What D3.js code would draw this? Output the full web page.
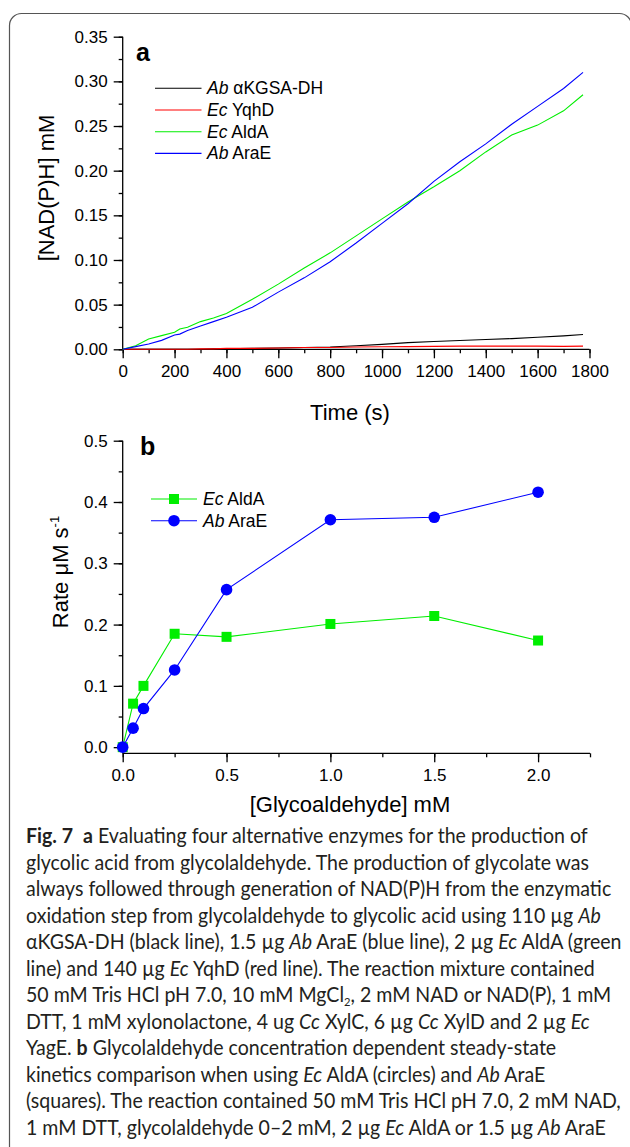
<!DOCTYPE html>
<html>
<head>
<meta charset="utf-8">
<script src="https://cdn.jsdelivr.net/npm/d3@7"></script>
<style>
  body { margin: 0; background: #fff; }
  svg { display: block; }
  .ax text { font-family: "Liberation Sans", Arial, sans-serif; font-size: 17px; fill: #000; }
  .ax path, .ax line { stroke: #000; stroke-width: 1.3; }
</style>
</head>
<body>
<svg id="fig" width="630" height="1147"></svg>
<script>
// panel a: NAD(P)H vs time
const timeA = [0, 50, 100, 150, 200, 220, 250, 300, 350, 400, 500, 600, 700, 800, 900, 1000, 1100, 1200, 1300, 1400, 1500, 1600, 1700, 1775];
const kgsaA = [0, 0, 0, 0, 0, 0, 0, 0, 0.0005, 0.0005, 0.001, 0.0015, 0.002, 0.0025, 0.004, 0.0055, 0.0075, 0.0088, 0.0098, 0.011, 0.012, 0.0135, 0.015, 0.0165];
const yqhdA = [0, 0, 0, 0, 0, 0, 0, 0.0005, 0.0005, 0.001, 0.001, 0.0015, 0.002, 0.002, 0.0025, 0.0028, 0.003, 0.0033, 0.0035, 0.0035, 0.0035, 0.0035, 0.0033, 0.0035];
const aldaA = [0, 0.004, 0.0115, 0.0153, 0.019, 0.0228, 0.0247, 0.031, 0.035, 0.040, 0.056, 0.073, 0.091, 0.108, 0.127, 0.146, 0.165, 0.182, 0.200, 0.221, 0.240, 0.251, 0.267, 0.285];
const araeA = [0, 0.003, 0.006, 0.010, 0.016, 0.017, 0.021, 0.026, 0.031, 0.036, 0.047, 0.064, 0.080, 0.098, 0.119, 0.141, 0.163, 0.188, 0.210, 0.230, 0.252, 0.272, 0.292, 0.310];

// panel b: rate vs glycoaldehyde
const concB = [0, 0.05, 0.1, 0.25, 0.5, 1.0, 1.5, 2.0];
const aldaB = [0, 0.071, 0.100, 0.185, 0.180, 0.201, 0.214, 0.174];
const araeB = [0, 0.031, 0.063, 0.126, 0.257, 0.371, 0.375, 0.416];

const ticksAx = [0, 200, 400, 600, 800, 1000, 1200, 1400, 1600, 1800];
const ticksAy = [0, 0.05, 0.10, 0.15, 0.20, 0.25, 0.30, 0.35];
const ticksBx = [0, 0.5, 1.0, 1.5, 2.0];
const ticksBy = [0, 0.1, 0.2, 0.3, 0.4, 0.5];

const GREEN = '#00ee00', BLUE = '#0000ff', RED = '#ff0000', BLACK = '#000';
const sans = '"Liberation Sans", Arial, sans-serif';

const svg = d3.select('#fig');

// figure frame
svg.append('rect')
  .attr('x', 9.5).attr('y', 13.5).attr('width', 622).attr('height', 1200)
  .attr('rx', 12).attr('fill', 'none').attr('stroke', '#555').attr('stroke-width', 1.2);

function axes(x, y, xt, yt, xMinor, yMinor, yFmt, xFmt) {
  const gx = svg.append('g').attr('class', 'ax').attr('transform', `translate(0,${y.range()[0]})`);
  gx.call(d3.axisBottom(x).tickValues(xMinor).tickSize(4).tickFormat(''));
  const gx2 = svg.append('g').attr('class', 'ax').attr('transform', `translate(0,${y.range()[0]})`);
  gx2.call(d3.axisBottom(x).tickValues(xt).tickSize(9).tickPadding(7).tickFormat(xFmt));
  gx2.select('.domain').remove();
  gx.select('.domain').attr('d', `M${x.range()[0]},0H${x.range()[1]}`);

  const gy = svg.append('g').attr('class', 'ax').attr('transform', `translate(${x.range()[0]},0)`);
  gy.call(d3.axisLeft(y).tickValues(yMinor).tickSize(4).tickFormat(''));
  const gy2 = svg.append('g').attr('class', 'ax').attr('transform', `translate(${x.range()[0]},0)`);
  gy2.call(d3.axisLeft(y).tickValues(yt).tickSize(9).tickPadding(6).tickFormat(yFmt));
  gy2.select('.domain').remove();
  gy.select('.domain').attr('d', `M0,${y.range()[0]}V${y.range()[1]}`);
}

// ---------- panel a ----------
const xA = d3.scaleLinear([0, 1800], [122.7, 589.5]);
const yA = d3.scaleLinear([0, 0.35], [349.3, 36.7]);
axes(xA, yA, ticksAx, ticksAy, d3.range(0, 1801, 100), d3.range(0, 0.351, 0.025),
  d3.format('.2f'), d3.format('d'));

const lineA = vals => d3.line().x((d, i) => xA(timeA[i])).y(d => yA(d))(vals);
[[kgsaA, BLACK], [yqhdA, RED], [aldaA, GREEN], [araeA, BLUE]].forEach(([v, c]) => {
  svg.append('path').attr('d', lineA(v)).attr('fill', 'none').attr('stroke', c).attr('stroke-width', 1.1);
});

svg.append('text').attr('x', 136).attr('y', 61).text('a')
  .attr('font-family', sans).attr('font-weight', 'bold').attr('font-size', 25);

const legA = [
  [BLACK, 'Ab', ' \u03b1KGSA-DH'],
  [RED, 'Ec', ' YqhD'],
  [GREEN, 'Ec', ' AldA'],
  [BLUE, 'Ab', ' AraE']
];
legA.forEach(([c, it, rest], i) => {
  const ly = 88.3 + i * 21.7;
  svg.append('line').attr('x1', 155).attr('x2', 201.5).attr('y1', ly).attr('y2', ly)
    .attr('stroke', c).attr('stroke-width', 1.1);
  const t = svg.append('text').attr('x', 207).attr('y', ly + 6)
    .attr('font-family', sans).attr('font-size', 17.5);
  t.append('tspan').attr('font-style', 'italic').text(it);
  t.append('tspan').text(rest);
});

svg.append('text').attr('x', 350).attr('y', 420).attr('text-anchor', 'middle')
  .attr('font-family', sans).attr('font-size', 22).text('Time (s)');
svg.append('text').attr('transform', 'translate(54,188) rotate(-90)').attr('text-anchor', 'middle')
  .attr('font-family', sans).attr('font-size', 22).text('[NAD(P)H] mM');

// ---------- panel b ----------
const xB = d3.scaleLinear([0, 2.25], [122.7, 590]);
const yB = d3.scaleLinear([-0.01, 0.5], [753.3, 440.7]);
axes(xB, yB, ticksBx, ticksBy, d3.range(0, 2.26, 0.25), d3.range(0, 0.501, 0.05),
  d3.format('.1f'), d3.format('.1f'));

const lineB = vals => d3.line().x((d, i) => xB(concB[i])).y(d => yB(d))(vals);
svg.append('path').attr('d', lineB(aldaB)).attr('fill', 'none').attr('stroke', GREEN).attr('stroke-width', 1.1);
svg.append('path').attr('d', lineB(araeB)).attr('fill', 'none').attr('stroke', BLUE).attr('stroke-width', 1.1);

svg.selectAll('.sq').data(aldaB).enter().append('rect')
  .attr('x', (d, i) => xB(concB[i]) - 5).attr('y', d => yB(d) - 5)
  .attr('width', 10).attr('height', 10).attr('fill', GREEN);
svg.selectAll('.ci').data(araeB).enter().append('circle')
  .attr('cx', (d, i) => xB(concB[i])).attr('cy', d => yB(d)).attr('r', 5.8).attr('fill', BLUE);

svg.append('text').attr('x', 140).attr('y', 455).text('b')
  .attr('font-family', sans).attr('font-weight', 'bold').attr('font-size', 25);

const legB = [[GREEN, 'Ec', ' AldA', 'sq'], [BLUE, 'Ab', ' AraE', 'ci']];
legB.forEach(([c, it, rest, m], i) => {
  const ly = 499 + i * 21.7;
  svg.append('line').attr('x1', 151).attr('x2', 197).attr('y1', ly).attr('y2', ly)
    .attr('stroke', c).attr('stroke-width', 1.1);
  if (m === 'sq') svg.append('rect').attr('x', 169).attr('y', ly - 5).attr('width', 10).attr('height', 10).attr('fill', c);
  else svg.append('circle').attr('cx', 174).attr('cy', ly).attr('r', 5.8).attr('fill', c);
  const t = svg.append('text').attr('x', 203).attr('y', ly + 6)
    .attr('font-family', sans).attr('font-size', 17.5);
  t.append('tspan').attr('font-style', 'italic').text(it);
  t.append('tspan').text(rest);
});

svg.append('text').attr('x', 350).attr('y', 812).attr('text-anchor', 'middle')
  .attr('font-family', sans).attr('font-size', 22).text('[Glycoaldehyde] mM');
const rl = svg.append('text').attr('transform', 'translate(68,572) rotate(-90)').attr('text-anchor', 'middle')
  .attr('font-family', sans).attr('font-size', 22);
rl.append('tspan').text('Rate \u03bcM s');
rl.append('tspan').attr('dy', -9).attr('font-size', 13).text('-1');

// ---------- caption ----------
const caption = [
  [['Fig. 7', 'b'], ['  ', ''], ['a', 'b'], [' Evaluating four alternative enzymes for the production of', '']],
  [['glycolic acid from glycolaldehyde. The production of glycolate was', '']],
  [['always followed through generation of NAD(P)H from the enzymatic', '']],
  [['oxidation step from glycolaldehyde to glycolic acid using 110 \u00b5g ', ''], ['Ab', 'i']],
  [['\u03b1KGSA-DH (black line), 1.5 \u00b5g ', ''], ['Ab', 'i'], [' AraE (blue line), 2 \u00b5g ', ''], ['Ec', 'i'], [' AldA (green', '']],
  [['line) and 140 \u00b5g ', ''], ['Ec', 'i'], [' YqhD (red line). The reaction mixture contained', '']],
  [['50 mM Tris HCl pH 7.0, 10 mM MgCl', ''], ['2', 's'], [', 2 mM NAD or NAD(P), 1 mM', '']],
  [['DTT, 1 mM xylonolactone, 4 ug ', ''], ['Cc', 'i'], [' XylC, 6 \u00b5g ', ''], ['Cc', 'i'], [' XylD and 2 \u00b5g ', ''], ['Ec', 'i']],
  [['YagE. ', ''], ['b', 'b'], [' Glycolaldehyde concentration dependent steady-state', '']],
  [['kinetics comparison when using ', ''], ['Ec', 'i'], [' AldA (circles) and ', ''], ['Ab', 'i'], [' AraE', '']],
  [['(squares). The reaction contained 50 mM Tris HCl pH 7.0, 2 mM NAD,', '']],
  [['1 mM DTT, glycolaldehyde 0\u20132 mM, 2 \u00b5g ', ''], ['Ec', 'i'], [' AldA or 1.5 \u00b5g ', ''], ['Ab', 'i'], [' AraE', '']]
];

const cap = svg.append('g');
const capLines = caption.map((segs, li) => {
  const t = cap.append('text').attr('x', 0).attr('y', 843.3 + li * 26.5)
    .attr('font-family', 'Lato, "Open Sans", sans-serif').attr('font-size', 21).attr('fill', '#231f20')
    .style('white-space', 'pre');
  let sub = false;
  segs.forEach(([s, st]) => {
    const ts = t.append('tspan').text(s);
    if (sub) { ts.attr('dy', -3.5); sub = false; }
    if (st === 'b') ts.attr('font-weight', 'bold');
    if (st === 'i') ts.attr('font-style', 'italic');
    if (st === 's') { ts.attr('font-size', 12).attr('dy', 3.5); sub = true; }
  });
  return t;
});
const w0 = capLines[0].node().getComputedTextLength();
const sx = 562 / w0;
cap.attr('transform', `translate(26,0) scale(${sx},1)`);
</script>
</body>
</html>
